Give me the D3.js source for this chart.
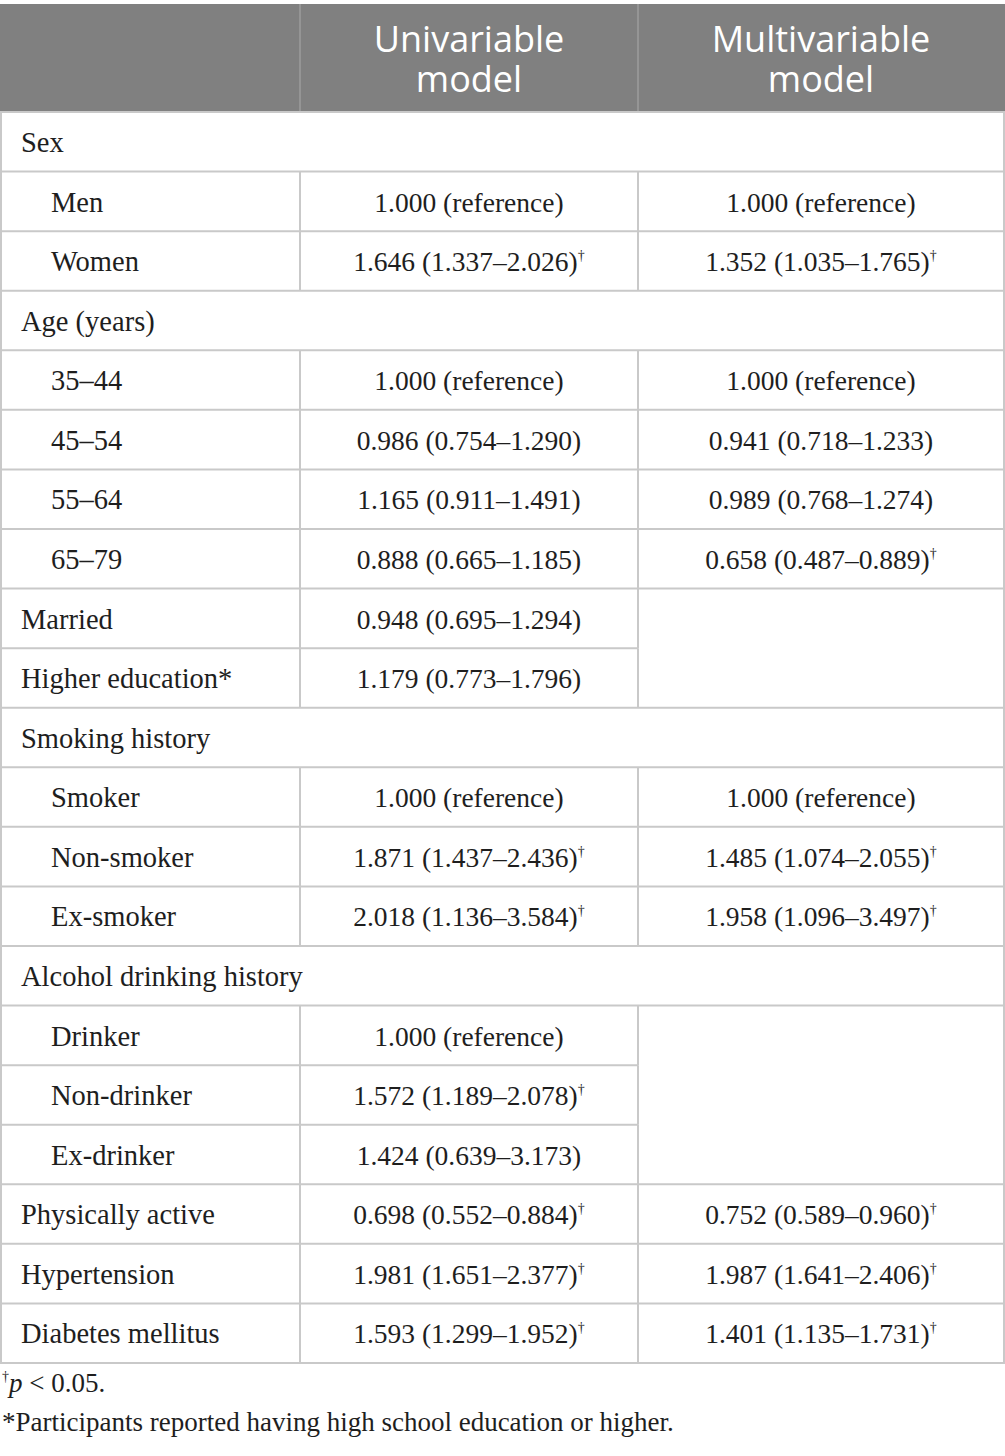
<!DOCTYPE html>
<html>
<head>
<meta charset="utf-8">
<script src="https://cdn.jsdelivr.net/npm/d3@7"></script>
<style>
  body { margin: 0; background: #fff; }
  svg { display: block; }
</style>
</head>
<body>
<div id="chart"></div>
<script>
// table content
var headers = [["", ""], ["Univariable", "model"], ["Multivariable", "model"]];

var rowLabels = ["Sex", "Men", "Women", "Age (years)", "35\u201344", "45\u201354", "55\u201364", "65\u201379",
  "Married", "Higher education*", "Smoking history", "Smoker", "Non-smoker", "Ex-smoker",
  "Alcohol drinking history", "Drinker", "Non-drinker", "Ex-drinker",
  "Physically active", "Hypertension", "Diabetes mellitus"];

// group = full width heading, sub = indented level, main = top level with values
var rowKinds = ["group", "sub", "sub", "group", "sub", "sub", "sub", "sub",
  "main", "main", "group", "sub", "sub", "sub",
  "group", "sub", "sub", "sub",
  "main", "main", "main"];

var referenceRows = ["Men", "35\u201344", "Smoker", "Drinker"];

var uniOR = [null, 1, 1.646, null, 1, 0.986, 1.165, 0.888, 0.948, 1.179, null, 1, 1.871, 2.018, null, 1, 1.572, 1.424, 0.698, 1.981, 1.593];
var uniLo = [null, null, 1.337, null, null, 0.754, 0.911, 0.665, 0.695, 0.773, null, null, 1.437, 1.136, null, null, 1.189, 0.639, 0.552, 1.651, 1.299];
var uniHi = [null, null, 2.026, null, null, 1.290, 1.491, 1.185, 1.294, 1.796, null, null, 2.436, 3.584, null, null, 2.078, 3.173, 0.884, 2.377, 1.952];

var multOR = [null, 1, 1.352, null, 1, 0.941, 0.989, 0.658, null, null, null, 1, 1.485, 1.958, null, null, null, null, 0.752, 1.987, 1.401];
var multLo = [null, null, 1.035, null, null, 0.718, 0.768, 0.487, null, null, null, null, 1.074, 1.096, null, null, null, null, 0.589, 1.641, 1.135];
var multHi = [null, null, 1.765, null, null, 1.233, 1.274, 0.889, null, null, null, null, 2.055, 3.497, null, null, null, null, 0.960, 2.406, 1.731];

var footnotes = ["p < 0.05.", "*Participants reported having high school education or higher."];

var W = 1005, H = 1456;
var top0 = 4, headBottom = 112, tableBottom = 1363;
var lineColor = "#c9c9c9";
var serif = "'Liberation Serif', 'Times New Roman', serif";

var colX = d3.scaleOrdinal().domain([0, 1, 2, 3]).range([1, 300, 638, 1004]);
var y = d3.scaleBand().domain(d3.range(rowLabels.length)).range([headBottom, tableBottom]);
var fmt = d3.format(".3f");

var svg = d3.select("#chart").append("svg").attr("width", W).attr("height", H);

// header
svg.append("rect").attr("x", 0).attr("y", top0).attr("width", W).attr("height", headBottom - top0).attr("fill", "#808080");
[1, 2].forEach(function(c) {
  svg.append("line").attr("x1", colX(c)).attr("x2", colX(c)).attr("y1", top0).attr("y2", headBottom)
    .attr("stroke", "#9c9c9c").attr("stroke-width", 1.5);
});
headers.forEach(function(h, c) {
  if (c == 0) return;
  var cx = (colX(c) + colX(c + 1)) / 2;
  [h[0], h[1]].forEach(function(line, j) {
    svg.append("text").attr("x", cx).attr("y", 52 + j * 40).attr("text-anchor", "middle").attr("fill", "#fff")
      .style("font-family", "'Open Sans', sans-serif").style("font-size", "36px").text(line);
  });
});

function cellParts(i, or, lo, hi) {
  if (or[i] == null) return null;
  if (referenceRows.indexOf(rowLabels[i]) >= 0) return { text: fmt(or[i]) + " (reference)", sig: false };
  var sig = lo[i] > 1 || hi[i] < 1;
  return { text: fmt(or[i]) + " (" + fmt(lo[i]) + "\u2013" + fmt(hi[i]) + ")", sig: sig };
}

var g = svg.append("g");

// horizontal lines
for (var i = 0; i <= rowLabels.length; i++) {
  var yy = i == 0 ? headBottom : (i == rowLabels.length ? tableBottom : y(i));
  var skipMult = i > 0 && i < rowLabels.length && rowKinds[i] != "group" && rowKinds[i - 1] != "group"
    && multOR[i] == null && multOR[i - 1] == null;
  g.append("line").attr("x1", 0).attr("x2", skipMult ? colX(2) : W).attr("y1", yy).attr("y2", yy)
    .attr("stroke", lineColor).attr("stroke-width", 2);
}
// outer verticals
[1, W - 1].forEach(function(x) {
  g.append("line").attr("x1", x).attr("x2", x).attr("y1", headBottom).attr("y2", tableBottom)
    .attr("stroke", lineColor).attr("stroke-width", 2);
});
// inner verticals for non-group rows
rowLabels.forEach(function(lab, i) {
  if (rowKinds[i] == "group") return;
  [1, 2].forEach(function(c) {
    g.append("line").attr("x1", colX(c)).attr("x2", colX(c)).attr("y1", y(i)).attr("y2", y(i) + y.bandwidth())
      .attr("stroke", lineColor).attr("stroke-width", 2);
  });
});

// row text
rowLabels.forEach(function(lab, i) {
  var base = y(i) + 40;
  g.append("text").attr("x", rowKinds[i] == "sub" ? 51 : 21).attr("y", base)
    .attr("fill", "#1e1e1e").style("font-family", serif).style("font-size", "28.5px").text(lab);

  [[uniOR, uniLo, uniHi], [multOR, multLo, multHi]].forEach(function(s, k) {
    var p = cellParts(i, s[0], s[1], s[2]);
    if (!p) return;
    var cx = (colX(k + 1) + colX(k + 2)) / 2;
    var t = g.append("text").attr("x", cx).attr("y", base).attr("text-anchor", "middle")
      .attr("fill", "#1e1e1e").style("font-family", serif).style("font-size", "27.5px");
    t.append("tspan").text(p.text);
    if (p.sig) t.append("tspan").attr("dy", -11).style("font-size", "14px").text("\u2020");
  });
});

// footnotes
var f1 = svg.append("text").attr("x", 2).attr("y", 1392).attr("fill", "#1e1e1e")
  .style("font-family", serif).style("font-size", "27px");
f1.append("tspan").attr("dy", -11).style("font-size", "14px").text("\u2020");
f1.append("tspan").attr("dy", 11).style("font-style", "italic").text("p");
f1.append("tspan").text(footnotes[0].slice(1));
svg.append("text").attr("x", 2).attr("y", 1431).attr("fill", "#1e1e1e")
  .style("font-family", serif).style("font-size", "27px").text(footnotes[1]);
</script>
</body>
</html>
